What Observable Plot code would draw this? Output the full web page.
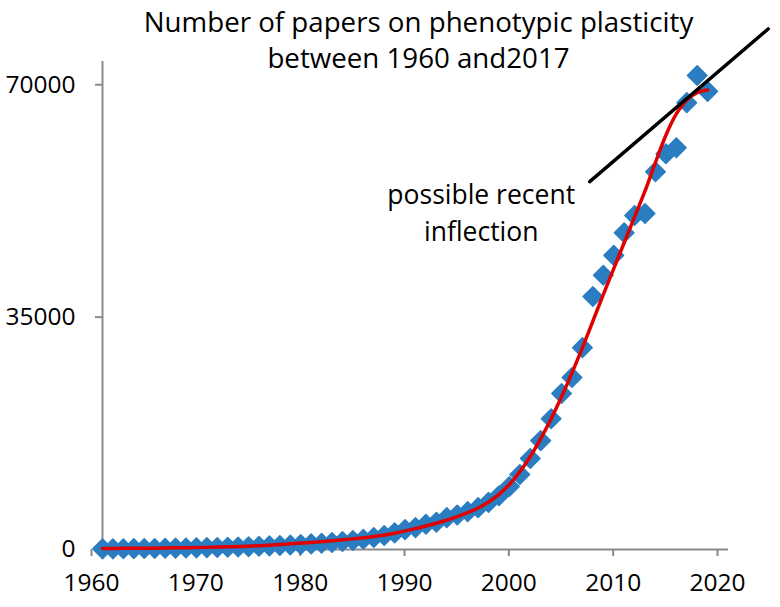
<!DOCTYPE html>
<html><head><meta charset="utf-8">
<script src="https://cdn.jsdelivr.net/npm/d3@7"></script>
<script src="https://cdn.jsdelivr.net/npm/@observablehq/plot@0.6"></script>
<style>html,body{margin:0;padding:0;background:#fff} svg{display:block}</style>
</head><body><div id="chart"></div>
<script>
const years = [1960,1961,1962,1963,1964,1965,1966,1967,1968,1969,
  1970,1971,1972,1973,1974,1975,1976,1977,1978,1979,
  1980,1981,1982,1983,1984,1985,1986,1987,1988,1989,
  1990,1991,1992,1993,1994,1995,1996,1997,1998,1999,
  2000,2001,2002,2003,2004,2005,2006,2007,2008,2009,
  2010,2011,2012,2013,2014,2015,2016,2017,2018];
const papers = [100,100,120,130,150,160,180,200,220,250,
  280,300,330,370,420,480,550,600,680,750,
  850,950,1050,1200,1350,1550,1800,2100,2500,3000,
  3300,3800,4100,4800,5200,5700,6300,7100,8100,9500,
  11300,13700,16400,19700,23500,25900,30400,38100,41300,44300,
  47700,50300,50600,56900,59600,60500,67300,71400,69000];
const fitYears = [1960,1962,1964,1966,1968,1970,1972,1974,1976,1978,
  1980,1982,1984,1986,1988,1990,1992,1994,1996,1997,1998,1999,
  2000,2001,2002,2003,2004,2005,2006,2007,2008,2009,
  2010,2011,2012,2013,2014,2015,2016,2017,2018];
const fitValues = [150,170,200,230,270,320,400,500,650,850,
  1050,1300,1600,1950,2450,3150,3950,4950,6250,7150,8300,9800,
  11700,14000,16700,19700,23000,26600,30400,34400,38400,42300,
  46200,50100,54000,58300,62400,65600,67700,68800,69200];
const trendYears = [2006.7, 2023.8];
const trendValues = [55400, 78400];
const xTicks = [1960,1970,1980,1990,2000,2010,2020];
const yTicks = [0,35000,70000];
const titleLines = ["Number of papers on phenotypic plasticity", "between 1960 and2017"];
const noteLines = ["possible recent", "inflection"];

const points = years.map((y, i) => ({year: y, n: papers[i]}));
const fit = fitYears.map((y, i) => ({year: y, n: fitValues[i]}));
const trend = trendYears.map((y, i) => ({year: y, n: trendValues[i]}));

const axisColor = "#898989";
const chart = Plot.plot({
  width: 780,
  height: 607,
  marginLeft: 102,
  marginRight: 52,
  marginTop: 61,
  marginBottom: 58,
  style: {fontFamily: "'Open Sans', sans-serif", fontSize: "24.5px", color: "#000", background: "#fff"},
  x: {domain: [1960, 2020]},
  y: {domain: [0, 73500]},
  marks: [
    Plot.ruleY([0], {stroke: axisColor, strokeWidth: 2}),
    Plot.ruleX([1960], {stroke: axisColor, strokeWidth: 2}),
    Plot.axisX({ticks: xTicks, tickFormat: d => String(d), tickSize: 7, tickPadding: 17, stroke: axisColor, strokeWidth: 2, fill: "#000", dx: -11, fontSize: 24.5, label: null}),
    Plot.axisY({ticks: yTicks, tickFormat: d => String(d), tickSize: 7, tickPadding: 20, stroke: axisColor, strokeWidth: 2, fill: "#000", fontSize: 24.5, label: null}),
    Plot.dot(points, {x: "year", y: "n", symbol: "diamond2", r: 8.8, fill: "#2a7dc0", stroke: "#2a7dc0", strokeWidth: 1.5, strokeLinejoin: "round"}),
    Plot.line(fit, {x: "year", y: "n", stroke: "#e00000", strokeWidth: 3.5, curve: "catmull-rom"}),
    Plot.line(trend, {x: "year", y: "n", stroke: "#000", strokeWidth: 3.5, clip: false}),
    Plot.text([noteLines[0]], {x: 1996.3, y: 53300, text: d => d, fill: "#000", fontSize: 26.5}),
    Plot.text([noteLines[1]], {x: 1996.3, y: 47700, text: d => d, fill: "#000", fontSize: 26.5}),
    Plot.text([titleLines[0]], {frameAnchor: "top", dx: 3, dy: -49, text: d => d, fill: "#000", fontSize: 27.7}),
    Plot.text([titleLines[1]], {frameAnchor: "top", dx: 3, dy: -13, text: d => d, fill: "#000", fontSize: 27.7})
  ]
});
document.getElementById("chart").appendChild(chart);
</script>
</body></html>
